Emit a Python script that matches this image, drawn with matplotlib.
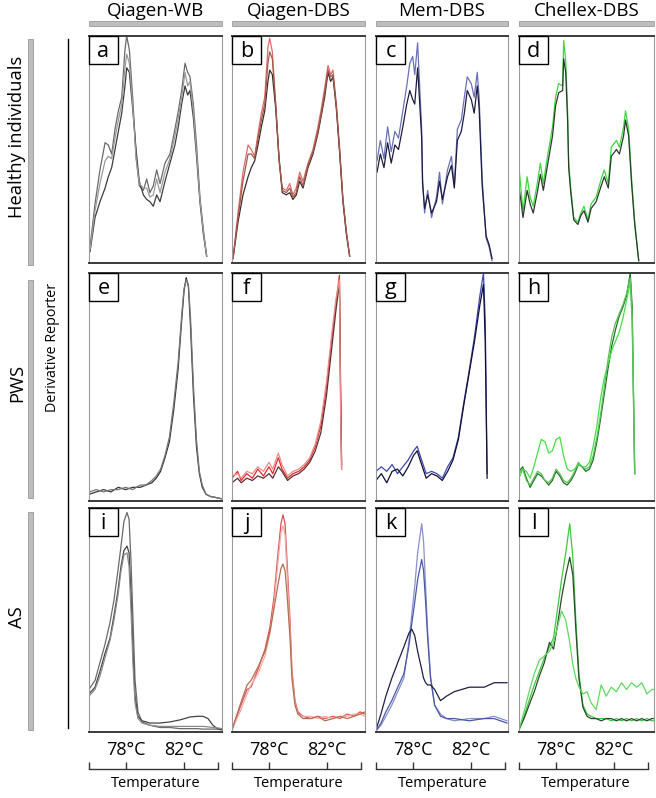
import matplotlib
matplotlib.use("Agg")
import matplotlib.pyplot as plt
from matplotlib.patches import Rectangle

plt.rcParams['font.family'] = ['Open Sans', 'DejaVu Sans']

W, H = 656, 798

methods = ["Qiagen-WB", "Qiagen-DBS", "Mem-DBS", "Chellex-DBS"]
groups = ["Healthy individuals", "PWS", "AS"]
letters = ["a", "b", "c", "d", "e", "f", "g", "h", "i", "j", "k", "l"]
tick_temps = [78, 82]
tick_labels = ["78°C", "82°C"]
axis_label = "Temperature"
y_label = "Derivative Reporter"

# ---- data: temperature (°C) and derivative reporter (% of panel max) ----
a_temp = [75.57, 75.91, 76.25, 76.6, 76.82, 77.05, 77.28, 77.51, 77.74, 77.96, 78.08, 78.26, 78.49, 78.72, 78.94, 79.22, 79.45, 79.67, 79.9, 80.13, 80.36, 80.7, 81.04, 81.38, 81.61, 81.84, 82.07, 82.25, 82.41, 82.64, 82.87, 83.09, 83.32, 83.55]
a_run1 = [7, 26, 41, 53, 52, 48, 59, 67, 73, 94, 100, 94, 73, 47, 34, 32, 37, 31, 34, 41, 35, 44, 48, 59, 67, 76, 88, 84, 82, 70, 51, 29, 15, 3]
a_run2 = [5, 20, 27, 33, 38, 42, 50, 58, 66, 78, 86, 84, 68, 50, 36, 30, 28, 27, 25, 30, 27, 36, 44, 52, 60, 70, 78, 74, 76, 64, 46, 27, 13, 3]
a_run3 = [6, 23, 35, 45, 47, 46, 55, 63, 70, 86, 92, 88, 70, 46, 35, 33, 33, 29, 30, 37, 31, 40, 46, 56, 64, 73, 84, 78, 80, 67, 48, 28, 14, 3]

b_temp = [75.57, 75.91, 76.25, 76.6, 76.82, 77.05, 77.28, 77.51, 77.74, 77.96, 78.08, 78.26, 78.49, 78.72, 78.94, 79.22, 79.45, 79.67, 79.9, 80.13, 80.36, 80.7, 81.04, 81.38, 81.61, 81.84, 82.07, 82.25, 82.41, 82.64, 82.87, 83.09, 83.32, 83.55]
b_run1 = [2, 22, 40, 52, 50, 47, 57, 66, 73, 95, 99, 93, 70, 45, 33, 32, 35, 30, 33, 40, 36, 44, 50, 60, 68, 77, 87, 83, 85, 70, 50, 28, 14, 3]
b_run2 = [2, 18, 30, 38, 42, 45, 52, 60, 67, 80, 85, 83, 68, 46, 31, 30, 31, 28, 30, 36, 33, 42, 48, 57, 65, 73, 84, 80, 82, 68, 48, 27, 13, 3]
b_run3 = [2, 20, 36, 48, 48, 46, 55, 63, 70, 88, 93, 90, 70, 46, 32, 31, 33, 29, 31, 38, 34, 43, 49, 58, 66, 75, 85, 82, 83, 69, 49, 28, 14, 3]

c_temp = [75.57, 75.8, 76.05, 76.3, 76.55, 76.8, 77.05, 77.35, 77.62, 77.83, 78.03, 78.17, 78.37, 78.65, 78.71, 78.85, 79.06, 79.33, 79.67, 79.88, 80.08, 80.43, 80.7, 80.9, 81.11, 81.38, 81.59, 81.79, 82.07, 82.27, 82.48, 82.61, 82.82, 83.09, 83.3, 83.5]
c_run1 = [45, 54, 46, 60, 49, 58, 55, 67, 78, 88, 91, 83, 97, 59, 37, 22, 32, 20, 29, 40, 26, 41, 47, 34, 59, 63, 73, 82, 79, 73, 84, 73, 37, 11, 7, 1]
c_run2 = [40, 48, 42, 53, 44, 52, 50, 60, 70, 76, 72, 70, 86, 55, 35, 24, 30, 22, 27, 36, 28, 38, 43, 33, 54, 58, 66, 76, 72, 66, 78, 68, 34, 12, 8, 2]

d_temp = [75.5, 75.64, 75.77, 76.05, 76.25, 76.46, 76.73, 76.94, 77.14, 77.42, 77.76, 77.96, 78.17, 78.44, 78.51, 78.65, 78.78, 78.85, 78.99, 79.19, 79.47, 79.67, 79.88, 80.15, 80.36, 80.7, 81.04, 81.25, 81.52, 81.72, 82.07, 82.27, 82.55, 82.68, 82.89, 83.09, 83.3, 83.57]
d_run1 = [42, 32, 23, 38, 29, 25, 35, 44, 35, 47, 60, 73, 79, 78, 98, 89, 66, 44, 33, 20, 18, 22, 25, 19, 26, 29, 37, 41, 35, 51, 54, 51, 60, 67, 59, 37, 18, 1]
d_run2 = [33, 27, 20, 32, 26, 22, 31, 39, 32, 43, 56, 69, 75, 76, 90, 84, 62, 42, 31, 19, 17, 21, 23, 18, 24, 27, 34, 38, 33, 47, 50, 48, 56, 63, 56, 35, 17, 1]

e_temp = [75.55, 76.0, 76.5, 77.0, 77.5, 78.0, 78.5, 79.0, 79.4, 79.8, 80.1, 80.4, 80.7, 81.0, 81.3, 81.6, 81.85, 82.0, 82.15, 82.3, 82.45, 82.65, 82.85, 83.05, 83.25, 83.5, 83.8, 84.2, 84.55]
e_run1 = [3, 4, 5, 4, 6, 5, 6, 6, 7, 8, 10, 13, 19, 26, 40, 58, 80, 92, 98, 94, 76, 46, 24, 12, 6, 3, 2, 1.5, 1]
e_run2 = [4, 5, 4, 5, 5, 6, 5, 7, 7, 9, 11, 14, 20, 28, 43, 61, 82, 93, 97, 95, 80, 50, 27, 13, 7, 3, 2, 1.5, 1]

f_temp = [75.5, 75.88, 76.13, 76.51, 76.89, 77.27, 77.65, 78.03, 78.29, 78.67, 78.92, 79.3, 79.68, 80.06, 80.44, 80.82, 81.2, 81.58, 81.96, 82.34, 82.6, 82.85, 82.93, 83.0]
f_run1 = [10, 13, 9, 12, 10, 14, 11, 15, 12, 19, 14, 10, 12, 13, 15, 18, 24, 33, 50, 72, 86, 99, 45, 14]
f_run2 = [8, 10, 8, 10, 9, 11, 10, 12, 10, 15, 13, 9, 11, 12, 14, 17, 22, 30, 46, 68, 83, 96, 50, 16]
f_run3 = [11, 12, 10, 13, 12, 15, 13, 17, 14, 21, 16, 11, 13, 14, 16, 19, 25, 35, 52, 74, 88, 97, 40, 14]

g_temp = [75.5, 75.87, 76.24, 76.61, 76.98, 77.35, 77.72, 78.09, 78.34, 78.59, 78.96, 79.33, 79.7, 80.07, 80.44, 80.81, 81.18, 81.55, 81.92, 82.29, 82.66, 82.91, 83.03, 83.16]
g_run1 = [13, 15, 13, 16, 12, 15, 18, 22, 24, 19, 12, 13, 12, 10, 15, 19, 28, 43, 57, 72, 90, 100, 79, 12]
g_run2 = [9, 12, 8, 13, 14, 11, 15, 20, 22, 17, 10, 12, 11, 9, 13, 18, 27, 42, 56, 70, 86, 95, 70, 10]

h_temp = [75.5, 75.75, 76.0, 76.25, 76.5, 76.75, 77.0, 77.25, 77.5, 77.75, 78.0, 78.25, 78.5, 78.75, 79.0, 79.25, 79.5, 79.75, 80.0, 80.25, 80.5, 80.75, 81.0, 81.25, 81.5, 81.75, 82.0, 82.25, 82.5, 82.75, 83.0, 83.13, 83.3]
h_run1 = [13, 15, 10, 6, 9, 12, 11, 9, 7, 9, 13, 11, 8, 7, 9, 12, 16, 15, 13, 14, 18, 26, 36, 47, 58, 68, 75, 81, 85, 90, 100, 85, 12]
h_run2 = [10, 14, 13, 10, 15, 21, 27, 26, 21, 22, 27, 28, 20, 14, 13, 14, 16, 15, 15, 17, 24, 33, 45, 54, 60, 66, 70, 74, 80, 88, 96, 78, 12]
h_run3 = [12, 14, 9, 7, 10, 13, 12, 9, 8, 10, 14, 12, 9, 8, 10, 13, 17, 15, 14, 15, 20, 28, 38, 50, 62, 72, 78, 82, 86, 91, 98, 80, 12]

i_temp = [75.5, 75.91, 76.25, 76.59, 76.94, 77.21, 77.48, 77.69, 77.89, 78.1, 78.24, 78.37, 78.51, 78.65, 78.85, 79.13, 79.67, 80.36, 81.04, 81.72, 82.41, 82.89, 83.3, 83.64, 83.98, 84.32, 84.6]
i_run1 = [19, 23, 31, 39, 49, 59, 72, 83, 94, 98, 95, 77, 50, 23, 9, 4.5, 3, 2, 2, 1.5, 1.5, 1.5, 1.3, 1.3, 1.3, 1.3, 1]
i_run2 = [17, 20, 27, 35, 42, 52, 63, 74, 81, 83, 80, 62, 36, 16, 7, 5, 4, 4, 4.5, 5.4, 6.7, 7, 7, 6, 3, 1.3, 1]
i_run3 = [16, 19, 25, 33, 41, 50, 61, 72, 79, 80, 74, 55, 30, 13, 6, 4, 3, 2.5, 2.5, 2.5, 2.5, 2.5, 2.5, 2.3, 2, 1.8, 1.5]

j_temp = [75.5, 76.05, 76.53, 76.8, 77.28, 77.76, 78.1, 78.37, 78.65, 78.85, 78.99, 79.13, 79.26, 79.47, 79.6, 79.81, 80.01, 80.36, 80.9, 81.38, 81.86, 82.41, 82.89, 83.37, 83.84, 84.26, 84.6]
j_run1 = [1, 11, 19, 20, 28, 37, 47, 60, 80, 93, 97, 93, 77, 50, 28, 14, 9, 7, 6, 7, 6, 7, 6, 8, 7, 9, 8]
j_run2 = [1, 9, 17, 21, 26, 34, 44, 57, 76, 89, 92, 88, 72, 46, 26, 13, 8, 7, 7, 6, 7, 6, 7, 7, 8, 8, 7]
j_run3 = [1, 12, 21, 23, 29, 36, 45, 55, 66, 73, 75, 72, 62, 42, 24, 12, 8, 6, 6, 7, 5, 6, 7, 6, 7, 8, 9]

k_temp = [75.5, 75.84, 76.18, 76.59, 77.0, 77.42, 77.76, 77.96, 78.17, 78.37, 78.65, 78.78, 78.92, 79.06, 79.26, 79.54, 79.95, 80.36, 80.9, 81.93, 82.96, 83.64, 84.53]
k_run1 = [0.5, 3, 7, 12, 18, 24, 40, 52, 65, 80, 93, 85, 65, 45, 25, 12, 8, 6, 5, 6, 6, 7, 5]
k_run2 = [0.5, 4, 9, 14, 20, 26, 38, 48, 58, 68, 77, 72, 58, 42, 24, 12, 7, 6, 6, 5, 6, 6, 4]
k_run3 = [1, 8, 16, 24, 31, 38, 44, 46, 43, 36, 28, 24, 22, 21, 21, 19, 14, 16, 18, 20, 20, 22, 22]

l_temp = [75.5, 75.84, 76.18, 76.53, 76.87, 77.21, 77.55, 77.83, 78.1, 78.37, 78.65, 78.92, 79.13, 79.33, 79.54, 79.81, 80.09, 80.36, 80.7, 81.04, 81.38, 81.72, 82.07, 82.41, 82.75, 83.09, 83.43, 83.78, 84.12, 84.46, 84.6]
l_run1 = [1, 7, 14, 21, 27, 33, 38, 42, 55, 68, 80, 93, 78, 50, 26, 12, 8, 7, 6, 6, 6, 5, 6, 5, 6, 5, 6, 5, 6, 5, 5]
l_run2 = [1, 6, 12, 18, 25, 31, 40, 37, 48, 60, 70, 78, 70, 46, 24, 11, 7, 6, 6, 5, 6, 6, 5, 6, 5, 6, 5, 6, 5, 6, 6]
l_run3 = [1, 9, 18, 26, 32, 34, 36, 40, 47, 54, 50, 40, 30, 24, 20, 17, 18, 13, 10, 21, 16, 20, 18, 22, 19, 22, 20, 22, 17, 19, 19]

panels = [
    (a_temp, [a_run1, a_run2, a_run3], ["#6a6a6a", "#3c3c3c", "#9a9a9a"]),
    (b_temp, [b_run1, b_run2, b_run3], ["#e06a6a", "#3a2a2a", "#a05a4a"]),
    (c_temp, [c_run1, c_run2], ["#6a70b8", "#1c1c40"]),
    (d_temp, [d_run1, d_run2], ["#3cd83c", "#2a3a2a"]),
    (e_temp, [e_run1, e_run2], ["#333333", "#777777"]),
    (f_temp, [f_run1, f_run2, f_run3], ["#e02a2a", "#5a3030", "#f08a8a"]),
    (g_temp, [g_run1, g_run2], ["#3c48b0", "#101030"]),
    (h_temp, [h_run1, h_run2, h_run3], ["#1f6e1f", "#46e046", "#5cc05c"]),
    (i_temp, [i_run1, i_run2, i_run3], ["#6a6a6a", "#444444", "#8a8a8a"]),
    (j_temp, [j_run1, j_run2, j_run3], ["#e05050", "#f2a8a8", "#b07050"]),
    (k_temp, [k_run1, k_run2, k_run3], ["#8a90c8", "#4a58a8", "#1e1e48"]),
    (l_temp, [l_run1, l_run2, l_run3], ["#3cc83c", "#2a4a2a", "#60d860"]),
]

# ---- layout (pixels) ----
col_x = [(89, 222), (232, 365), (376, 508), (519, 654)]
row_y = [(36, 263), (273, 501), (508, 732)]
xlim = (75.5, 84.6)

fig = plt.figure(figsize=(W / 100, H / 100), dpi=100)


def px_axes(l, t, r, b):
    return fig.add_axes([l / W, 1 - b / H, (r - l) / W, (b - t) / H])


def fx(x):
    return x / W


def fy(y):
    return 1 - y / H


for idx, (temp, runs, colors) in enumerate(panels):
    r, c = divmod(idx, 4)
    l, rr = col_x[c]
    t, b = row_y[r]
    ax = px_axes(l, t, rr, b)
    for run, col in zip(runs, colors):
        ax.plot(temp, run, color=col, lw=0.9, solid_joinstyle="round")
    ax.set_xlim(*xlim)
    ax.set_ylim(0, 100)
    ax.set_xticks([])
    ax.set_yticks([])
    for side in ("top", "bottom"):
        ax.spines[side].set_color("#3a3a3a")
        ax.spines[side].set_linewidth(1.4)
    for side in ("left", "right"):
        ax.spines[side].set_color("#9a9a9a")
        ax.spines[side].set_linewidth(0.8)
    bw = 29 / (rr - l)
    bh = 28 / (b - t)
    ax.add_patch(Rectangle((0, 1 - bh), bw, bh, transform=ax.transAxes,
                           facecolor="white", edgecolor="black", lw=1.0,
                           zorder=5, clip_on=False))
    ax.text(bw / 2, 1 - bh / 2 - 0.005, letters[idx], transform=ax.transAxes,
            ha="center", va="center", fontsize=15.5, zorder=6)

# column headers and bars
for c, name in enumerate(methods):
    l, rr = col_x[c]
    fig.text(fx((l + rr) / 2), fy(11), name, ha="center", va="center", fontsize=13.5)
    fig.patches.append(Rectangle((fx(l), fy(26)), fx(rr - l), 5 / H,
                                 transform=fig.transFigure, facecolor="#bdbdbd",
                                 edgecolor="#9a9a9a", lw=0.6))

# row labels and bars
bar_rows = [(39, 265), (280, 498), (512, 730)]
label_y = [137, 383, 617]
for r, name in enumerate(groups):
    t, b = bar_rows[r]
    fig.patches.append(Rectangle((fx(28), fy(b)), 5 / W, (b - t) / H,
                                 transform=fig.transFigure, facecolor="#bdbdbd",
                                 edgecolor="#9a9a9a", lw=0.6))
    fig.text(fx(17), fy(label_y[r]), name, rotation=90, ha="center", va="center",
             fontsize=13.2)

# y axis line and label
fig.add_artist(plt.Line2D([fx(68), fx(68)], [fy(39), fy(728)], color="black", lw=1.0))
fig.text(fx(52), fy(347), y_label, rotation=90, ha="center", va="center", fontsize=10.3)

# bottom temperature brackets
for c in range(4):
    l, rr = col_x[c]
    bax = px_axes(l, 760, l + 133, 769)
    bax.set_xlim(*xlim)
    bax.set_ylim(0, 1)
    bax.patch.set_visible(False)
    for side in ("top", "left", "right"):
        bax.spines[side].set_visible(False)
    bax.spines["bottom"].set_bounds(75.5, 84.3)
    bax.spines["bottom"].set_color("#333333")
    bax.spines["bottom"].set_linewidth(1.0)
    bax.set_yticks([])
    bax.set_xticks([75.5] + tick_temps + [84.3])
    bax.set_xticklabels([""] + tick_labels + [""])
    bax.tick_params(axis="x", direction="in", length=5, width=1.0, color="#333333",
                    bottom=True, top=False, labelbottom=False, labeltop=True,
                    labelsize=13, pad=1)
    bax.set_xlabel(axis_label, fontsize=10.5, labelpad=5)

fig.savefig("out.png", dpi=100, facecolor="white")
